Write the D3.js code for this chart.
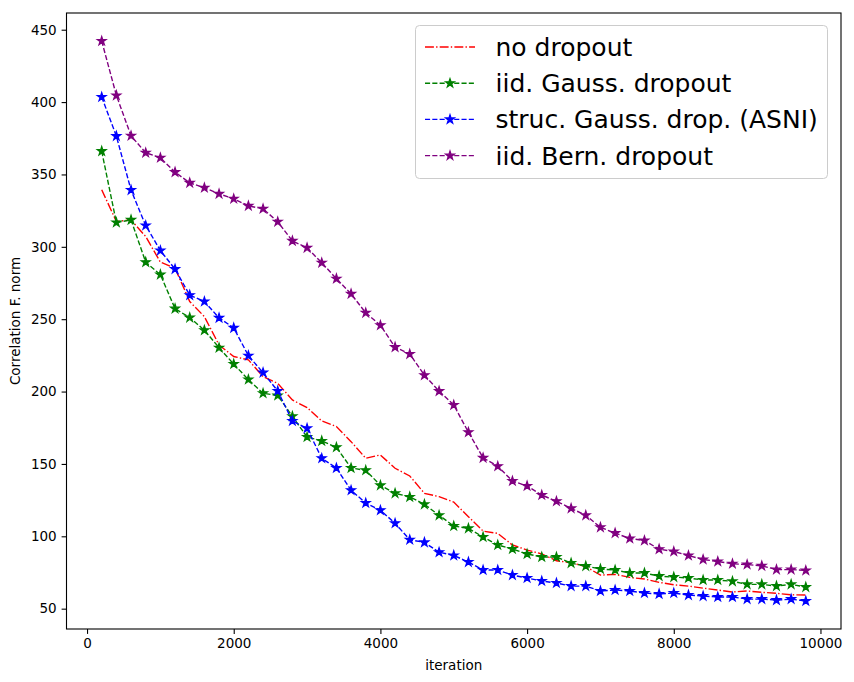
<!DOCTYPE html>
<html>
<head>
<meta charset="utf-8">
<style>
  body { margin: 0; background: #fff; }
  svg text { font-family: "DejaVu Sans", sans-serif; }
</style>
</head>
<body>
<script src="https://cdn.jsdelivr.net/npm/d3@7"></script>
<script>

// iterations (x) and the four curves
var iterations = [200, 400, 600, 800, 1000, 1200, 1400, 1600, 1800, 2000,
  2200, 2400, 2600, 2800, 3000, 3200, 3400, 3600, 3800, 4000,
  4200, 4400, 4600, 4800, 5000, 5200, 5400, 5600, 5800, 6000,
  6200, 6400, 6600, 6800, 7000, 7200, 7400, 7600, 7800, 8000,
  8200, 8400, 8600, 8800, 9000, 9200, 9400, 9600, 9800];

var noDropout = [339.4, 317.5, 318.6, 307.1, 289.4, 285.3, 262.2, 251.8, 232.2, 224.2,
  221.9, 210.3, 205.7, 194.2, 188.9, 179.7, 175.8, 165.4, 153.9, 156.2,
  147.0, 141.7, 129.7, 127.4, 123.7, 113.5, 103.6, 102.0, 94.0, 90.5,
  87.8, 83.1, 81.8, 79.0, 73.2, 73.7, 71.6, 70.5, 68.2, 66.5,
  65.6, 64.2, 62.9, 61.5, 62.2, 61.3, 60.6, 59.6, 59.4];

var iidGauss = [366.1, 316.8, 318.6, 289.4, 280.8, 257.3, 251.1, 242.4, 230.3, 219.0,
  208.3, 198.8, 197.3, 182.9, 168.6, 165.9, 161.5, 147.2, 145.6, 135.2,
  129.7, 127.2, 122.1, 114.5, 107.1, 105.5, 99.5, 94.0, 91.2, 87.8,
  85.7, 85.7, 81.5, 79.4, 77.4, 76.7, 74.6, 74.6, 72.5, 71.8,
  71.2, 69.8, 69.8, 68.9, 66.8, 66.8, 65.6, 66.8, 64.9];

var strucGauss = [403.5, 376.5, 339.2, 314.7, 297.4, 284.6, 266.6, 262.2, 250.9, 244.0,
  224.8, 213.1, 200.4, 179.7, 174.6, 153.9, 147.2, 131.8, 123.0, 118.0,
  109.0, 97.6, 95.8, 89.0, 86.8, 82.2, 76.7, 76.7, 73.2, 71.2,
  69.1, 67.7, 65.6, 65.6, 62.2, 62.9, 62.2, 60.8, 60.2, 60.8,
  59.4, 58.7, 58.1, 58.1, 56.6, 56.6, 55.9, 56.6, 55.3];

var iidBern = [442.2, 404.6, 376.7, 365.0, 361.5, 351.6, 344.2, 340.8, 336.6, 333.2,
  328.3, 326.3, 317.3, 304.1, 299.3, 289.0, 278.0, 267.5, 254.4, 245.8,
  230.7, 225.9, 211.3, 200.3, 190.7, 171.9, 154.2, 148.4, 138.2, 134.8,
  128.5, 124.2, 119.3, 114.5, 106.2, 102.2, 98.5, 97.1, 91.1, 89.5,
  86.7, 84.0, 82.6, 81.0, 80.5, 79.6, 77.0, 77.0, 76.4];

var seriesNames = ["no dropout", "iid. Gauss. dropout", "struc. Gauss. drop. (ASNI)", "iid. Bern. dropout"];
var xTicks = [0, 2000, 4000, 6000, 8000, 10000];
var yTicks = [50, 100, 150, 200, 250, 300, 350, 400, 450];

var series = [
  {name: seriesNames[0], values: noDropout,  color: "#ff0000", dash: "8.9,2.2,1.4,2.2", marker: false},
  {name: seriesNames[1], values: iidGauss,   color: "#008000", dash: "5.1,2.2", marker: true},
  {name: seriesNames[2], values: strucGauss, color: "#0000ff", dash: "5.1,2.2", marker: true},
  {name: seriesNames[3], values: iidBern,    color: "#800080", dash: "5.1,2.2", marker: true}
];

var W = 854, H = 682;
var margin = {top: 13, right: 13, bottom: 53, left: 66.5};

var svg = d3.select("body").append("svg")
    .attr("width", W)
    .attr("height", H);

// matplotlib style 5% padding on the data range
var xExt = d3.extent(iterations);
var allY = d3.merge(series.map(s => s.values));
var yExt = d3.extent(allY);
var xPad = (xExt[1] - xExt[0]) * 0.05, yPad = (yExt[1] - yExt[0]) * 0.05;

var x = d3.scaleLinear()
    .domain([xExt[0] - xPad, xExt[1] + xPad])
    .range([margin.left, W - margin.right]);
var y = d3.scaleLinear()
    .domain([yExt[0] - yPad, yExt[1] + yPad])
    .range([H - margin.bottom, margin.top]);

var xAxis = svg.append("g")
    .attr("transform", "translate(0," + (H - margin.bottom) + ")")
    .call(d3.axisBottom(x).tickValues(xTicks).tickFormat(d3.format("d")).tickSize(4.9).tickPadding(4.9));
var yAxis = svg.append("g")
    .attr("transform", "translate(" + margin.left + ",0)")
    .call(d3.axisLeft(y).tickValues(yTicks).tickFormat(d3.format("d")).tickSize(4.9).tickPadding(4.9));

[xAxis, yAxis].forEach(g => {
  g.select(".domain").remove();
  g.selectAll(".tick line").attr("stroke", "#000").attr("stroke-width", 1.1);
  g.selectAll(".tick text").attr("fill", "#000").style("font-size", "13.5px").style("font-family", "DejaVu Sans");
});

var lineGen = d3.line()
    .x((d, i) => x(iterations[i]))
    .y(d => y(d));

var star = d3.symbol().type(d3.symbolStar).size(24);

var plot = svg.append("g");
series.forEach(s => {
  plot.append("path")
      .datum(s.values)
      .attr("fill", "none")
      .attr("stroke", s.color)
      .attr("stroke-width", 1.39)
      .attr("stroke-dasharray", s.dash)
      .attr("d", lineGen);
  if (s.marker) {
    plot.selectAll(null)
        .data(s.values)
        .join("path")
        .attr("transform", (d, i) => "translate(" + x(iterations[i]) + "," + y(d) + ")")
        .attr("d", star)
        .attr("fill", s.color)
        .attr("stroke", s.color)
        .attr("stroke-width", 1.2);
  }
});

// frame
svg.append("rect")
    .attr("x", margin.left)
    .attr("y", margin.top)
    .attr("width", W - margin.left - margin.right)
    .attr("height", H - margin.top - margin.bottom)
    .attr("fill", "none")
    .attr("stroke", "#000")
    .attr("stroke-width", 1.1);

// axis labels
svg.append("text")
    .attr("x", (margin.left + W - margin.right) / 2)
    .attr("y", 670)
    .attr("text-anchor", "middle")
    .style("font-size", "13.5px")
    .text("iteration");
svg.append("text")
    .attr("transform", "translate(20," + ((margin.top + H - margin.bottom) / 2) + ") rotate(-90)")
    .attr("text-anchor", "middle")
    .style("font-size", "13.5px")
    .text("Correlation F. norm");

// legend
var legend = svg.append("g");
legend.append("rect")
    .attr("x", 415.5)
    .attr("y", 25.5)
    .attr("width", 412)
    .attr("height", 153)
    .attr("rx", 4)
    .attr("fill", "#fff")
    .attr("fill-opacity", 0.8)
    .attr("stroke", "#cccccc");

series.forEach((s, i) => {
  var cy = 47 + i * 36.2;
  var row = legend.append("g");
  row.append("line")
      .attr("x1", 425).attr("x2", 475)
      .attr("y1", cy).attr("y2", cy)
      .attr("stroke", s.color)
      .attr("stroke-width", 1.39)
      .attr("stroke-dasharray", s.dash);
  if (s.marker) {
    row.append("path")
        .attr("transform", "translate(450," + cy + ")")
        .attr("d", star)
        .attr("fill", s.color)
        .attr("stroke", s.color)
        .attr("stroke-width", 1.2);
  }
  row.append("text")
      .attr("x", 495.5)
      .attr("y", cy)
      .attr("dy", "0.36em")
      .style("font-size", "25px")
      .text(s.name);
});

</script>
</body>
</html>
